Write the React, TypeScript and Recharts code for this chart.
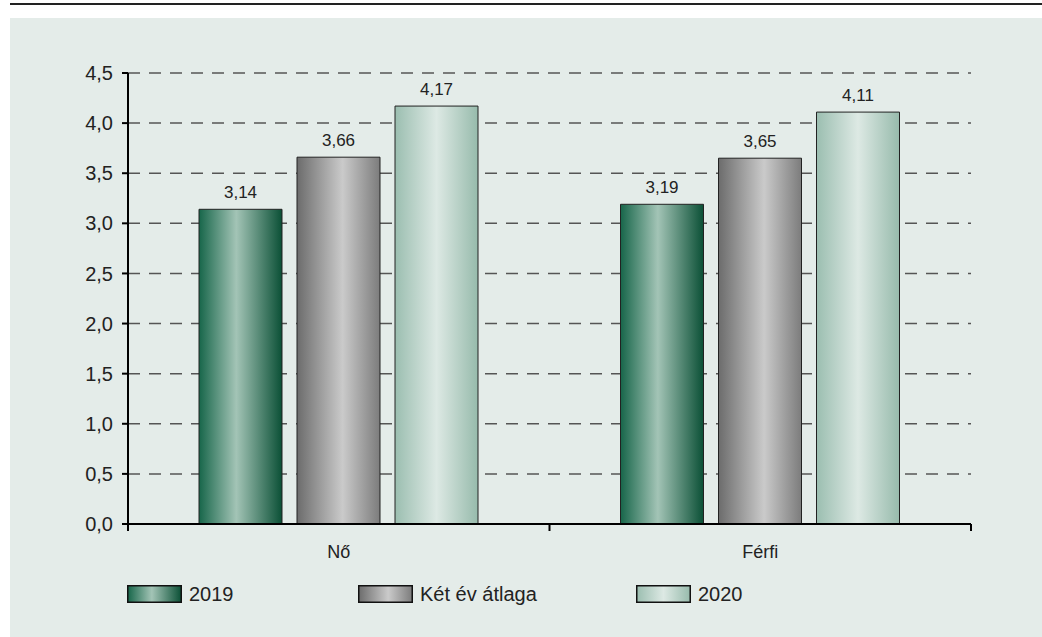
import React from "react";
import { BarChart, Bar, XAxis, YAxis, CartesianGrid, LabelList } from "recharts";

const categories = ["Nő", "Férfi"];
const series2019 = [3.14, 3.19];
const seriesAvg = [3.66, 3.65];
const series2020 = [4.17, 4.11];
const yTicks = [0, 0.5, 1, 1.5, 2, 2.5, 3, 3.5, 4, 4.5];

const SERIES = [
  { key: "y2019", name: "2019", grad: "g2019" },
  { key: "avg", name: "Két év átlaga", grad: "gAvg" },
  { key: "y2020", name: "2020", grad: "g2020" },
];

const data = categories.map((c, i) => ({
  cat: c,
  y2019: series2019[i],
  avg: seriesAvg[i],
  y2020: series2020[i],
}));

const FONT = "'Liberation Sans', Arial, sans-serif";
const fmt = (v: number) => v.toFixed(2).replace(".", ",");
const fmtTick = (v: number) => v.toFixed(1).replace(".", ",");

function Gradients() {
  return (
    <svg width={0} height={0} style={{ position: "absolute" }}>
      <defs>
        <linearGradient id="g2019" x1="0" y1="0" x2="1" y2="0">
          <stop offset="0" stopColor="#17664a" />
          <stop offset="0.45" stopColor="#a3c4b6" />
          <stop offset="1" stopColor="#0b5036" />
        </linearGradient>
        <linearGradient id="gAvg" x1="0" y1="0" x2="1" y2="0">
          <stop offset="0" stopColor="#6c6c6c" />
          <stop offset="0.55" stopColor="#cacaca" />
          <stop offset="1" stopColor="#7c7c7c" />
        </linearGradient>
        <linearGradient id="g2020" x1="0" y1="0" x2="1" y2="0">
          <stop offset="0" stopColor="#9bbeb0" />
          <stop offset="0.5" stopColor="#dde9e4" />
          <stop offset="1" stopColor="#97bbac" />
        </linearGradient>
      </defs>
    </svg>
  );
}

function CatTick(props: any) {
  const { x, y, payload, index } = props;
  const half = 421.5 / 2;
  return (
    <g>
      <line x1={x - half} y1={y - 8} x2={x - half} y2={y - 1} stroke="#000" strokeWidth={2} />
      {index === categories.length - 1 && (
        <line x1={x + half} y1={y - 8} x2={x + half} y2={y - 1} stroke="#000" strokeWidth={2} />
      )}
      <text x={x} y={y + 26} textAnchor="middle" fill="#222" fontSize={18} fontFamily={FONT}>
        {payload.value}
      </text>
    </g>
  );
}

const legendWidths = [231, 278, 200];

export default function App() {
  return (
    <div style={{ position: "absolute", left: 0, top: 0, width: 1042, height: 637, fontFamily: FONT }}>
      <Gradients />
      <div style={{ position: "absolute", left: 10, top: 3, width: 1032, height: 2, background: "#222" }} />
      <div style={{ position: "absolute", left: 10, top: 18, width: 1032, height: 619, background: "#e4ece9" }}>
        <BarChart
          width={1032}
          height={560}
          data={data}
          margin={{ top: 55, right: 71, left: 58, bottom: 24 }}
          barSize={83}
          barGap={15}
        >
          <CartesianGrid yAxisId="left" vertical={false} stroke="#555" strokeWidth={1.5} strokeDasharray="12 9" />
          <XAxis
            dataKey="cat"
            axisLine={{ stroke: "#000", strokeWidth: 2 }}
            tickLine={false}
            tick={<CatTick />}
            height={30}
            interval={0}
          />
          <YAxis
            yAxisId="left"
            domain={[0, 4.5]}
            ticks={yTicks}
            tickFormatter={fmtTick}
            axisLine={{ stroke: "#000", strokeWidth: 2 }}
            tickLine={{ stroke: "#000", strokeWidth: 2 }}
            tickSize={6}
            tickMargin={9}
            width={60}
            tick={{ fill: "#222", fontSize: 20, fontFamily: FONT }}
          />
          <YAxis
            yAxisId="right"
            orientation="right"
            domain={[0, 4.5]}
            ticks={yTicks}
            axisLine={{ stroke: "#000", strokeWidth: 2 }}
            tick={false}
            tickLine={false}
            width={0}
          />
          {SERIES.map((s) => (
            <Bar
              key={s.key}
              yAxisId="left"
              dataKey={s.key}
              name={s.name}
              fill={`url(#${s.grad})`}
              stroke="#222"
              strokeWidth={1}
              isAnimationActive={false}
            >
              <LabelList
                dataKey={s.key}
                position="top"
                offset={11}
                formatter={(v: any) => fmt(Number(v))}
                style={{ fill: "#222", fontSize: 17, fontFamily: FONT }}
              />
            </Bar>
          ))}
        </BarChart>
        <div style={{ position: "absolute", left: 117, top: 567, display: "flex" }}>
          {SERIES.map((s, i) => (
            <div key={s.key} style={{ width: legendWidths[i], display: "flex", alignItems: "center" }}>
              <svg width={55} height={18} style={{ display: "block" }}>
                <rect x={0.75} y={0.75} width={53.5} height={16.5} fill={`url(#${s.grad})`} stroke="#111" strokeWidth={1.5} />
              </svg>
              <span style={{ marginLeft: 7, fontSize: 20, color: "#222", lineHeight: "18px" }}>{s.name}</span>
            </div>
          ))}
        </div>
      </div>
    </div>
  );
}
